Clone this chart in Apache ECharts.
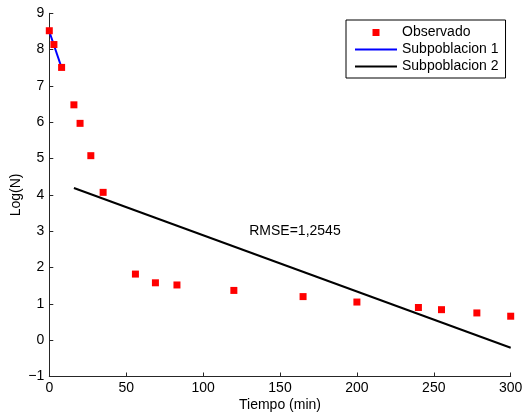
<!DOCTYPE html>
<html>
<head>
<meta charset="utf-8">
<script src="https://cdn.jsdelivr.net/npm/echarts@6/dist/echarts.min.js"></script>
<style>
html,body{margin:0;padding:0;background:#fff;}
#c{width:525px;height:419px;}
</style>
</head>
<body>
<div id="c"></div>
<script>
// Observed data
var obsTime = [0, 3, 8, 16, 20, 27, 35, 56, 69, 83, 120, 165, 200, 240, 255, 278, 300];
var obsLogN = [8.52, 8.14, 7.51, 6.48, 5.97, 5.08, 4.07, 1.82, 1.58, 1.52, 1.37, 1.20, 1.05, 0.90, 0.84, 0.75, 0.66];
// Subpopulation 1 fit
var sub1Time = [0, 8];
var sub1LogN = [8.5, 7.5];
// Subpopulation 2 fit
var sub2Time = [16, 300];
var sub2LogN = [4.19, -0.21];
// Annotation
var noteText = 'RMSE=1,2545';
var notePos = [130, 3.0];
var seriesNames = ['Observado', 'Subpoblacion 1', 'Subpoblacion 2'];

function pairs(xs, ys){ return xs.map(function(x,i){ return [x, ys[i]]; }); }

var FONT = 'Liberation Sans, Arial, Helvetica, sans-serif';
var FS = 14;
var chart = echarts.init(document.getElementById('c'), null, {renderer:'canvas'});
var axisCol = '#262626';
var sqIcon = 'path://M0,0 L7,0 L7,7 L0,7 Z';
var lnIcon = 'path://M0,0 L42,0 L42,2 L0,2 Z';
chart.setOption({
  animation: false,
  backgroundColor: '#fff',
  grid: {left: 49.3, right: 14.3, top: 13.3, bottom: 42.5, containLabel: false, outerBoundsMode: 'none'},
  xAxis: {
    type: 'value', min: 0, max: 300, interval: 50,
    name: 'Tiempo (min)', nameLocation: 'middle', nameGap: 22, nameMoveOverlap: false,
    nameTextStyle: {color: '#000', fontFamily: FONT, fontSize: FS},
    axisLine: {show: true, onZero: false, lineStyle: {color: axisCol, width: 1}},
    axisTick: {show: true, inside: true, length: 4, lineStyle: {color: axisCol}},
    axisLabel: {color: '#000', fontFamily: FONT, fontSize: FS, margin: 5},
    splitLine: {show: false}
  },
  yAxis: {
    type: 'value', min: -1, max: 9, interval: 1,
    name: 'Log(N)', nameLocation: 'middle', nameGap: 26, nameMoveOverlap: false,
    nameTextStyle: {color: '#000', fontFamily: FONT, fontSize: FS},
    axisLine: {show: true, onZero: false, lineStyle: {color: axisCol, width: 1}},
    axisTick: {show: true, inside: true, length: 4, lineStyle: {color: axisCol}},
    axisLabel: {color: '#000', fontFamily: FONT, fontSize: FS, margin: 5,
      formatter: function(v){ return String(v).replace('-', '\u2212'); }},
    splitLine: {show: false}
  },
  legend: {
    orient: 'vertical', left: 346, top: 20,
    symbolKeepAspect: true,
    data: [
      {name: seriesNames[0], icon: sqIcon, itemStyle: {color: '#ff0000', opacity: 1, borderWidth: 0}},
      {name: seriesNames[1], icon: lnIcon, itemStyle: {color: '#0000ff', borderWidth: 0}, lineStyle: {width: 0}},
      {name: seriesNames[2], icon: lnIcon, itemStyle: {color: '#000000', borderWidth: 0}, lineStyle: {width: 0}}
    ],
    backgroundColor: '#fff', borderColor: '#000', borderWidth: 1, borderRadius: 0,
    padding: [4, 7, 3, 9], itemGap: 0, itemWidth: 42, itemHeight: 7,
    textStyle: {color: '#000', fontFamily: FONT, fontSize: FS, lineHeight: 17}
  },
  series: [
    {
      name: seriesNames[0], type: 'scatter', data: pairs(obsTime, obsLogN),
      symbol: 'rect', symbolSize: 7, itemStyle: {color: '#ff0000', opacity: 1}, z: 3
    },
    {
      name: seriesNames[1], type: 'line', data: pairs(sub1Time, sub1LogN),
      symbol: 'none', lineStyle: {color: '#0000ff', width: 2}, itemStyle: {color: '#0000ff'}, z: 2
    },
    {
      name: seriesNames[2], type: 'line', data: pairs(sub2Time, sub2LogN),
      symbol: 'none', lineStyle: {color: '#000000', width: 2}, itemStyle: {color: '#000000'}, z: 2
    }
  ]
});
var p = chart.convertToPixel({gridIndex: 0}, notePos);
chart.setOption({
  graphic: [{
    type: 'text', x: p[0], y: p[1],
    style: {text: noteText, fill: '#000', font: FS + 'px ' + FONT, textAlign: 'left', textVerticalAlign: 'middle'}
  }]
});
</script>
</body>
</html>
